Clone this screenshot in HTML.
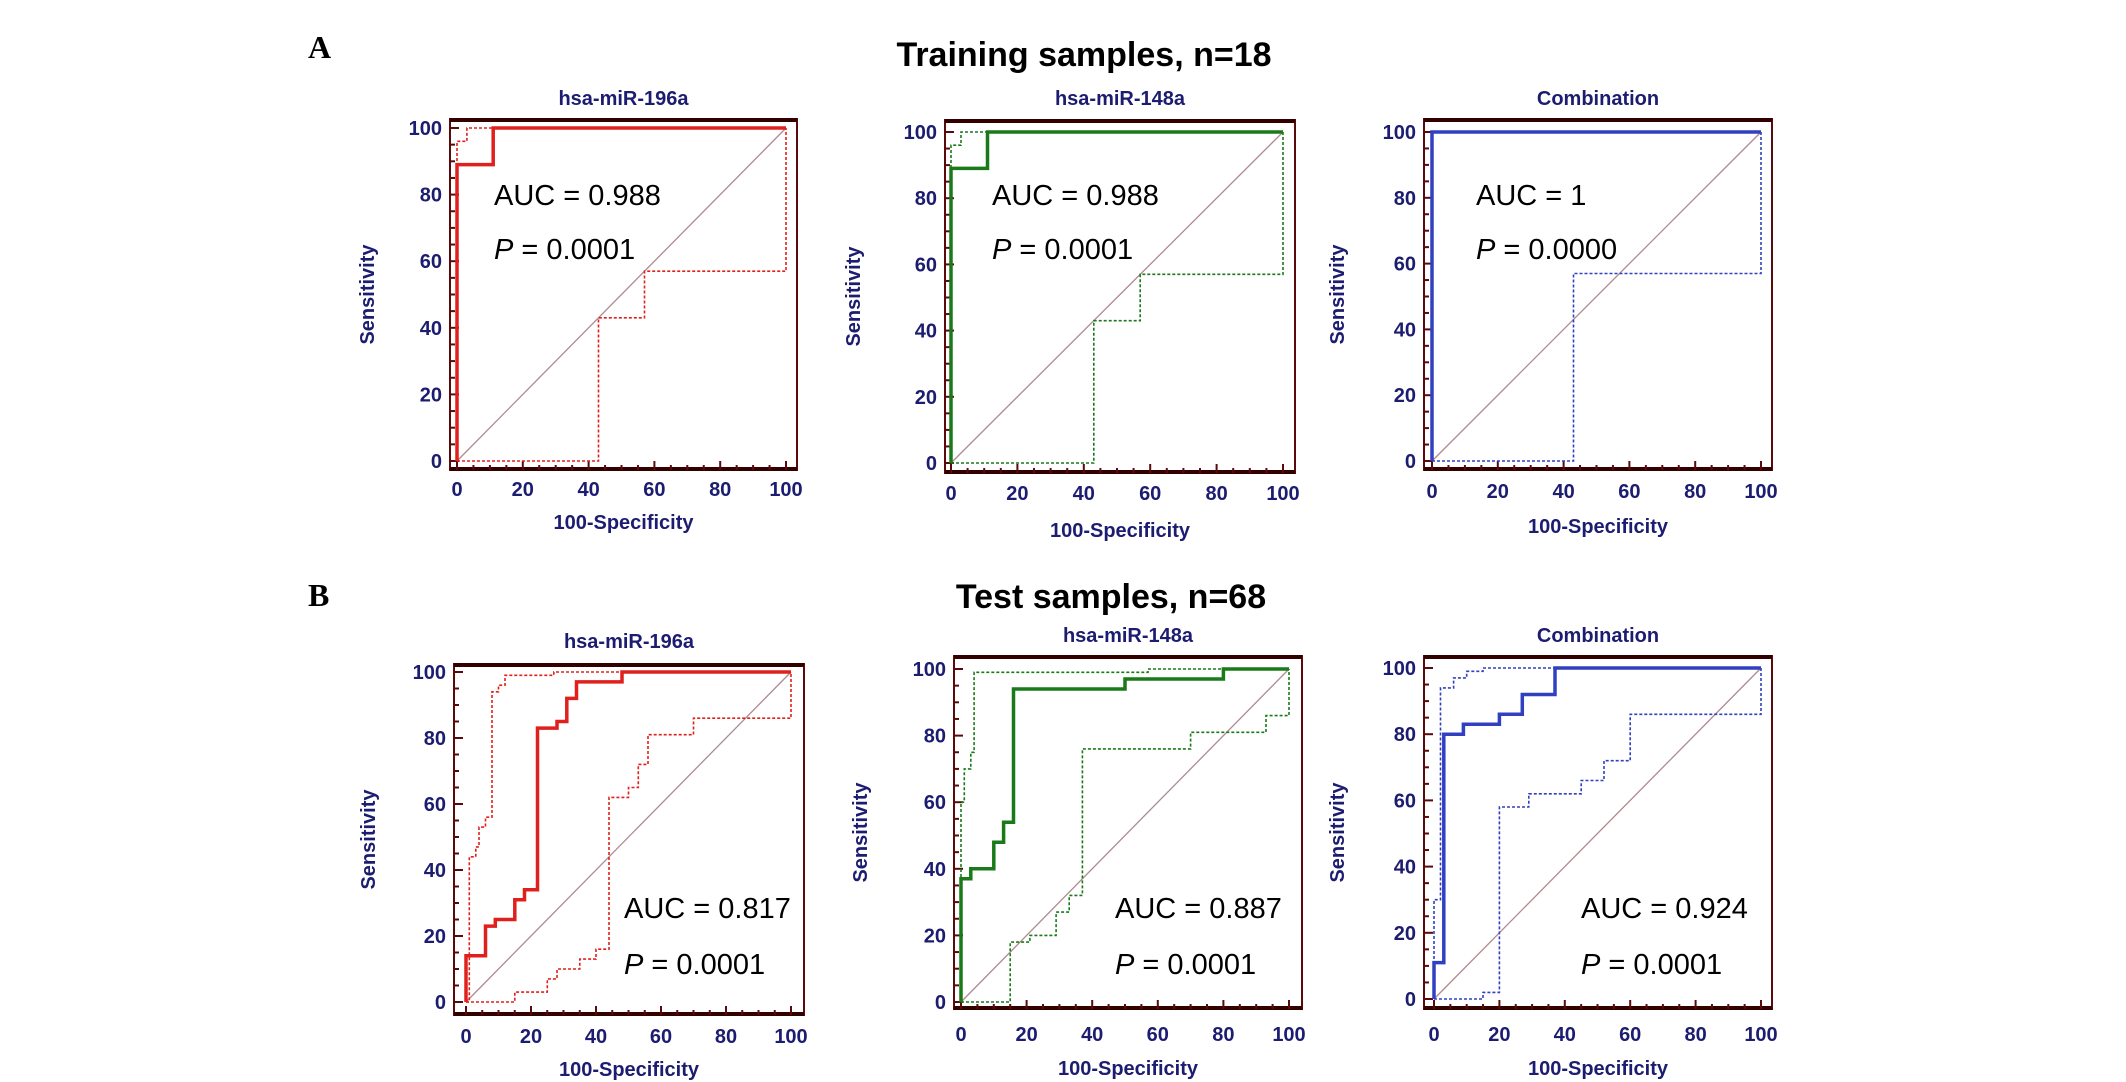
<!DOCTYPE html>
<html><head><meta charset="utf-8"><style>
html,body{margin:0;padding:0;background:#fff;}
svg{display:block;}
</style></head><body>
<svg id="fig" width="2126" height="1082" xmlns="http://www.w3.org/2000/svg">
<text x="308" y="58" font-family="Liberation Serif, serif" font-weight="bold" font-size="32">A</text>
<text x="308" y="606" font-family="Liberation Serif, serif" font-weight="bold" font-size="32">B</text>
<text x="1084" y="66" text-anchor="middle" font-family="Liberation Sans, sans-serif" font-weight="bold" font-size="34">Training samples, n=18</text>
<text x="1111" y="608" text-anchor="middle" font-family="Liberation Sans, sans-serif" font-weight="bold" font-size="34">Test samples, n=68</text>
</svg>
<script>
const panelTitles = ["hsa-miR-196a","hsa-miR-148a","Combination","hsa-miR-196a","hsa-miR-148a","Combination"];
const aucLabels = ["AUC = 0.988","AUC = 0.988","AUC = 1","AUC = 0.817","AUC = 0.887","AUC = 0.924"];
const pLabels = ["= 0.0001","= 0.0001","= 0.0000","= 0.0001","= 0.0001","= 0.0001"];
const tickValues = [0,20,40,60,80,100];
const rocMain = [
 [[0,0],[0,89],[11,89],[11,100],[100,100]],
 [[0,0],[0,89],[11,89],[11,100],[100,100]],
 [[0,0],[0,100],[100,100]],
 [[0,0],[0,14],[6,14],[6,23],[9,23],[9,25],[15,25],[15,31],[18,31],[18,34],[22,34],[22,83],[28,83],[28,85],[31,85],[31,92],[34,92],[34,97],[48,97],[48,100],[100,100]],
 [[0,0],[0,37],[3,37],[3,40],[10,40],[10,48],[13,48],[13,54],[16,54],[16,94],[50,94],[50,97],[80,97],[80,100],[100,100]],
 [[0,0],[0,11],[3,11],[3,80],[9,80],[9,83],[20,83],[20,86],[27,86],[27,92],[37,92],[37,100],[100,100]]
];
const rocUpper = [
 [[0,0],[0,96],[3,96],[3,100],[100,100]],
 [[0,0],[0,96],[3,96],[3,100],[100,100]],
 [[0,0],[0,100],[100,100]],
 [[0,0],[1,0],[1,44],[3,44],[3,47],[4,47],[4,53],[6,53],[6,56],[8,56],[8,94],[10,94],[10,96],[12,96],[12,99],[27,99],[27,100],[100,100]],
 [[0,0],[0,60],[1,60],[1,70],[3,70],[3,75],[4,75],[4,99],[57,99],[57,100],[100,100]],
 [[0,0],[0,30],[2,30],[2,94],[6,94],[6,97],[10,97],[10,99],[15,99],[15,100],[100,100]]
];
const rocLower = [
 [[0,0],[43,0],[43,43],[57,43],[57,57],[100,57],[100,100]],
 [[0,0],[43,0],[43,43],[57,43],[57,57],[100,57],[100,100]],
 [[0,0],[43,0],[43,57],[100,57],[100,100]],
 [[0,0],[15,0],[15,3],[25,3],[25,7],[28,7],[28,10],[35,10],[35,13],[40,13],[40,16],[44,16],[44,62],[50,62],[50,65],[53,65],[53,72],[56,72],[56,81],[70,81],[70,86],[100,86],[100,100]],
 [[0,0],[15,0],[15,18],[21,18],[21,20],[29,20],[29,27],[33,27],[33,32],[37,32],[37,76],[70,76],[70,81],[93,81],[93,86],[100,86],[100,100]],
 [[0,0],[15,0],[15,2],[20,2],[20,58],[29,58],[29,62],[45,62],[45,66],[52,66],[52,72],[60,72],[60,86],[100,86],[100,100]]
];
// layout (not data)
const L = [
 {bx:450,bx2:797,by:119,by2:470,x0:457,x1:786,y1:128,y0:461,col:"#e0201c",sub:98,xl:488,xt:522,sx:367,tx:494,ty:195,py:249},
 {bx:945,bx2:1295,by:120,by2:473,x0:951,x1:1283,y1:132,y0:463,col:"#1a7a1a",sub:98,xl:492,xt:530,sx:853,tx:992,ty:195,py:249},
 {bx:1424,bx2:1772,by:119,by2:470,x0:1432,x1:1761,y1:132,y0:461,col:"#3040c0",sub:98,xl:490,xt:526,sx:1337,tx:1476,ty:195,py:249},
 {bx:454,bx2:804,by:664,by2:1015,x0:466,x1:791,y1:672,y0:1002,col:"#e0201c",sub:641,xl:1035,xt:1069,sx:368,tx:624,ty:908,py:964},
 {bx:954,bx2:1302,by:656,by2:1009,x0:961,x1:1289,y1:669,y0:1002,col:"#1a7a1a",sub:635,xl:1033,xt:1068,sx:860,tx:1115,ty:908,py:964},
 {bx:1424,bx2:1772,by:656,by2:1009,x0:1434,x1:1761,y1:668,y0:999,col:"#3040c0",sub:635,xl:1033,xt:1068,sx:1337,tx:1581,ty:908,py:964}
];
const NS="http://www.w3.org/2000/svg", svg=document.getElementById('fig');
const NAVY="#1c1c70", MAROON="#5a0a0a";
function mk(tag,attrs,parent){const e=document.createElementNS(NS,tag);for(const k in attrs)e.setAttribute(k,attrs[k]);(parent||svg).appendChild(e);return e;}
L.forEach((p,i)=>{
  const g=mk('g',{});
  
  
  const sx=v=>p.x0+(p.x1-p.x0)*v/100, sy=v=>p.y0-(p.y0-p.y1)*v/100;
  const frame=mk('rect',{x:p.bx,y:p.by,width:p.bx2-p.bx,height:p.by2-p.by,fill:'#fff',stroke:MAROON,'stroke-width':2},g);
  
  
  mk('line',{x1:p.bx,x2:p.bx2,y1:p.by+1,y2:p.by+1,stroke:'#300',"stroke-width":4},g);
  mk('line',{x1:p.bx,x2:p.bx2,y1:p.by2-1,y2:p.by2-1,stroke:'#300',"stroke-width":4},g);
  for(let v=0;v<=100;v+=5){
    const len=v%20===0?9:5;
    mk('line',{x1:sx(v),x2:sx(v),y1:p.by2,y2:p.by2-len,stroke:MAROON,'stroke-width':2},g);
    mk('line',{x1:p.bx,x2:p.bx+len,y1:sy(v),y2:sy(v),stroke:MAROON,'stroke-width':2},g);
  }
  tickValues.forEach(v=>{
    const t=mk('text',{x:sx(v),y:p.xl+8,'text-anchor':'middle','font-family':'Liberation Sans, sans-serif','font-weight':'bold','font-size':20,fill:NAVY},g);
    t.textContent=v;
    
    
    const u=mk('text',{x:p.bx-8,y:sy(v)+7,'text-anchor':'end','font-family':'Liberation Sans, sans-serif','font-weight':'bold','font-size':20,fill:NAVY},g);
    u.textContent=v;
    
    
  });
  const cx=(p.bx+p.bx2)/2, cy=(p.by+p.by2)/2;
  const st=mk('text',{x:cx,y:p.sub+7,'text-anchor':'middle','font-family':'Liberation Sans, sans-serif','font-weight':'bold','font-size':20,fill:NAVY},g);
  st.textContent=panelTitles[i];
  
  
  const xt=mk('text',{x:cx,y:p.xt+7,'text-anchor':'middle','font-family':'Liberation Sans, sans-serif','font-weight':'bold','font-size':20,fill:NAVY},g);
  xt.textContent='100-Specificity';
  
  
  const yt=mk('text',{x:p.sx,y:cy,'text-anchor':'middle','font-family':'Liberation Sans, sans-serif','font-weight':'bold','font-size':20,fill:NAVY,transform:`rotate(-90 ${p.sx} ${cy})`,dy:7},g);
  yt.textContent='Sensitivity';
  
  
  const dg=mk('line',{x1:sx(0),y1:sy(0),x2:sx(100),y2:sy(100),stroke:'#b08a90','stroke-width':1.3},g);
  
  
  const pts=a=>a.map(q=>sx(q[0]).toFixed(1)+','+sy(q[1]).toFixed(1)).join(' ');
  const lo=mk('polyline',{points:pts(rocLower[i]),fill:'none',stroke:p.col,'stroke-width':1.6,'stroke-dasharray':'3 2'},g);
  
  
  const up=mk('polyline',{points:pts(rocUpper[i]),fill:'none',stroke:p.col,'stroke-width':1.6,'stroke-dasharray':'3 2'},g);
  
  
  const mn=mk('polyline',{points:pts(rocMain[i]),fill:'none',stroke:p.col,'stroke-width':3.5},g);
  
  
  const a=mk('text',{x:p.tx,y:p.ty+10,'font-family':'Liberation Sans, sans-serif','font-size':29,fill:'#000'},g);
  a.textContent=aucLabels[i];
  
  
  const pt=mk('text',{x:p.tx,y:p.py+10,'font-family':'Liberation Sans, sans-serif','font-size':29,fill:'#000'},g);
  const pi=mk('tspan',{'font-style':'italic'},pt); pi.textContent='P';
  const pr=mk('tspan',{},pt); pr.textContent=' '+pLabels[i];
  
  
});
</script>
</body></html>
